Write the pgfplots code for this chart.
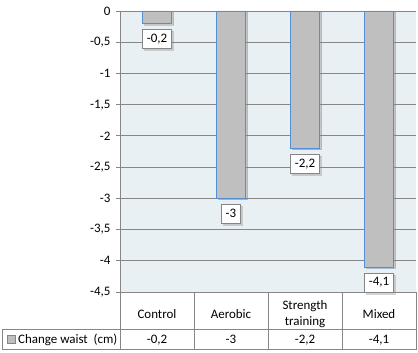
\documentclass[border=0pt]{standalone}
\usepackage{fontspec}
\setmainfont{Carlito}
\usepackage{pgfplots}
\pgfplotsset{compat=1.18}
\usetikzlibrary{shadows}
\definecolor{barfill}{RGB}{191,191,191}
\definecolor{baredge}{RGB}{85,142,213}
\definecolor{plotbg}{RGB}{233,240,244}
\definecolor{gridc}{RGB}{134,134,134}
\begin{document}
\begin{tikzpicture}[x=1bp,y=1bp,font=\fontsize{13}{16}\selectfont]
\path[use as bounding box] (0,0) rectangle (418,353);
\begin{axis}[
  at={(120bp,61bp)}, anchor=south west,
  scale only axis, width=296bp, height=281bp,
  xmin=-0.5, xmax=3.5, ymin=-4.5, ymax=0,
  axis lines*=left,
  axis line style={gridc, line width=0.8bp},
  axis background/.style={fill=plotbg},
  ytick={-4.5,-4,-3.5,-3,-2.5,-2,-1.5,-1,-0.5,0},
  yticklabels={{-4,5},-4,{-3,5},-3,{-2,5},-2,{-1,5},-1,{-0,5},0},
  ymajorgrids, grid style={gridc, line width=0.8bp},
  tick align=outside, major tick length=4bp,
  ytick style={gridc, line width=0.8bp},
  yticklabel style={xshift=-2bp},
  xtick={0,1,2,3},
  xticklabels={Control,Aerobic,{Strength\\training},Mixed},
  xtick style={draw=none},
  xticklabel style={anchor=center, align=center, yshift=-18.5bp},
  ybar, bar width=29bp,
  clip=false,
]
\addplot[fill=barfill, draw=baredge, line width=0.8bp,
  /tikz/drop shadow={shadow xshift=2bp, shadow yshift=-1.5bp, opacity=0.35},
  nodes near coords, point meta=explicit symbolic,
  nodes near coords style={anchor=north, yshift=-5.5bp, fill=white, draw=gridc,
    line width=0.8bp, inner xsep=4bp, minimum height=19bp, text=black,
    drop shadow={shadow xshift=2bp, shadow yshift=-2bp, opacity=0.35}}]
 coordinates {(0,-0.2) [-0,2] (1,-3) [-3] (2,-2.2) [-2,2] (3,-4.1) [-4,1]};
\end{axis}
\draw[gridc, line width=0.8bp] (2,24) -- (416,24);
\draw[gridc, line width=0.8bp] (2,3.5) -- (416,3.5);
\draw[gridc, line width=0.8bp] (2,3.5) -- (2,24);
\foreach \xx in {120,194,268,342,416} {
  \draw[gridc, line width=0.8bp] (\xx,3.5) -- (\xx,61);
}
\draw[baredge, fill=barfill, line width=0.8bp] (7.5,10) rectangle (15,17.5);
\node[anchor=base west, inner sep=0] at (18,9.5) {Change waist\hspace{3bp} (cm)};
\node[anchor=base, inner sep=0] at (157,9.5) {-0,2};
\node[anchor=base, inner sep=0] at (231,9.5) {-3};
\node[anchor=base, inner sep=0] at (305,9.5) {-2,2};
\node[anchor=base, inner sep=0] at (379,9.5) {-4,1};
\end{tikzpicture}
\end{document}
